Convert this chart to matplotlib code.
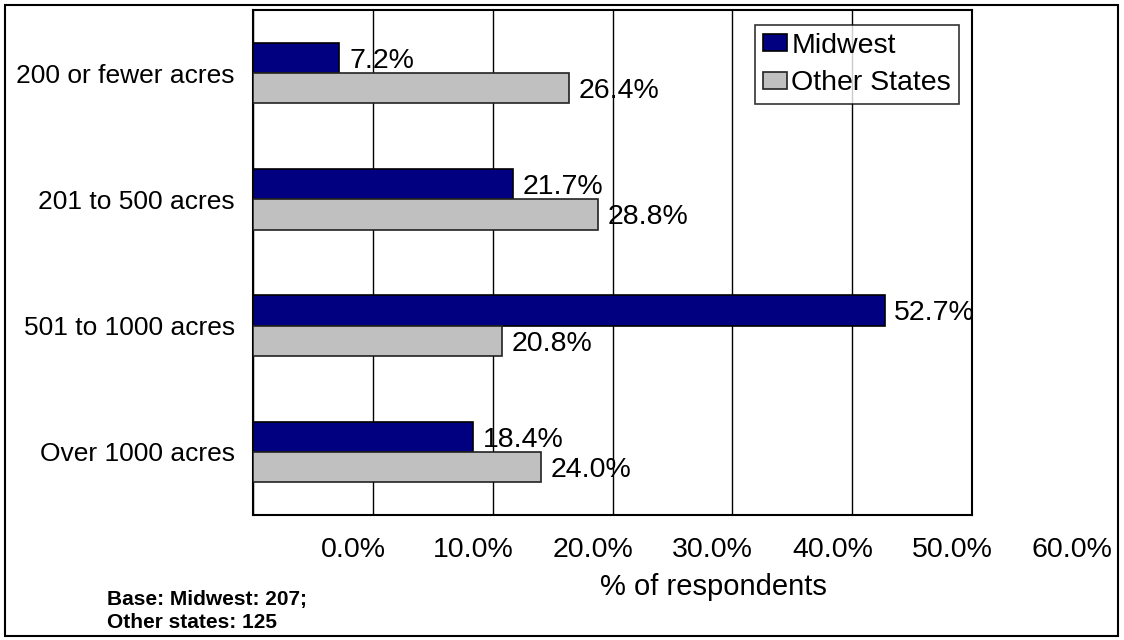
import matplotlib
matplotlib.use("Agg")
import matplotlib.pyplot as plt
import matplotlib.patches as patches
from matplotlib.transforms import ScaledTranslation
import numpy as np

plt.rcParams['font.family'] = ['Liberation Sans', 'DejaVu Sans']

categories = ['200 or fewer acres', '201 to 500 acres', '501 to 1000 acres', 'Over 1000 acres']
midwest = [7.2, 21.7, 52.7, 18.4]
other_states = [26.4, 28.8, 20.8, 24.0]
x_ticks = [0, 10, 20, 30, 40, 50, 60]
x_tick_labels = ['0.0%', '10.0%', '20.0%', '30.0%', '40.0%', '50.0%', '60.0%']

W, H = 1124, 640
fig = plt.figure(figsize=(W / 100, H / 100), dpi=100)

# outer frame round the whole chart
fig.patches.append(patches.Rectangle((5 / W, 4 / H), 1113 / W, 631 / H, transform=fig.transFigure,
                                     fill=False, edgecolor='black', linewidth=1.5))

# plot area in pixels: left 253, right 972, top 10, bottom 515
ax = fig.add_axes([253 / W, (H - 515) / H, (972 - 253) / W, (515 - 10) / H])

y = np.arange(len(categories))
h = 0.24
ax.barh(y - h / 2, midwest, height=h, color='#000080', edgecolor='black', linewidth=1.2, label='Midwest', zorder=3)
ax.barh(y + h / 2, other_states, height=h, color='#C0C0C0', edgecolor='#222222', linewidth=1.2,
        label='Other States', zorder=3)

for yi, v in zip(y, midwest):
    ax.annotate(f'{v:.1f}%', (v, yi - h / 2), xytext=(7, -2), textcoords='offset points',
                ha='left', va='center', fontsize=20.5, zorder=4)
for yi, v in zip(y, other_states):
    ax.annotate(f'{v:.1f}%', (v, yi + h / 2), xytext=(7, -2), textcoords='offset points',
                ha='left', va='center', fontsize=20.5, zorder=4)

ax.set_xlim(0, 60)
ax.set_ylim(len(categories) - 0.5, -0.5)
ax.set_yticks(y)
ax.set_yticklabels(categories, fontsize=19)
ax.set_xticks(x_ticks)
ax.set_xticklabels(x_tick_labels, fontsize=20.5)
ax.tick_params(axis='both', length=0)
ax.tick_params(axis='y', pad=13)
ax.tick_params(axis='x', pad=16)
ax.grid(axis='x', color='black', linewidth=1.0, zorder=0)
for s in ax.spines.values():
    s.set_linewidth(1.5)
    s.set_color('black')

# the value labels under the axis sit shifted to the right
shift = ScaledTranslation(100 / 100, 0, fig.dpi_scale_trans)
for lbl in ax.get_xticklabels():
    lbl.set_transform(lbl.get_transform() + shift)

ax.set_xlabel('% of respondents', fontsize=21, va='center')
ax.xaxis.set_label_coords((713 - 253) / 719, (515 - 587) / 505)

leg = ax.legend(loc='upper left', bbox_to_anchor=((755 - 253) / 719, (515 - 25) / 505),
                borderaxespad=0, fontsize=20.5, frameon=True, fancybox=False, shadow=False,
                handlelength=0.85, handleheight=0.55, handletextpad=0.15, borderpad=0.28,
                labelspacing=0.4)
leg.get_frame().set_edgecolor('black')
leg.get_frame().set_linewidth(1.2)
leg.set_zorder(5)

fig.text(107 / W, 1 - 599 / H, 'Base: Midwest: 207;', fontsize=15, fontweight='bold', va='center')
fig.text(107 / W, 1 - 623 / H, 'Other states: 125', fontsize=15, fontweight='bold', va='center')

fig.savefig('out.png', dpi=100)
